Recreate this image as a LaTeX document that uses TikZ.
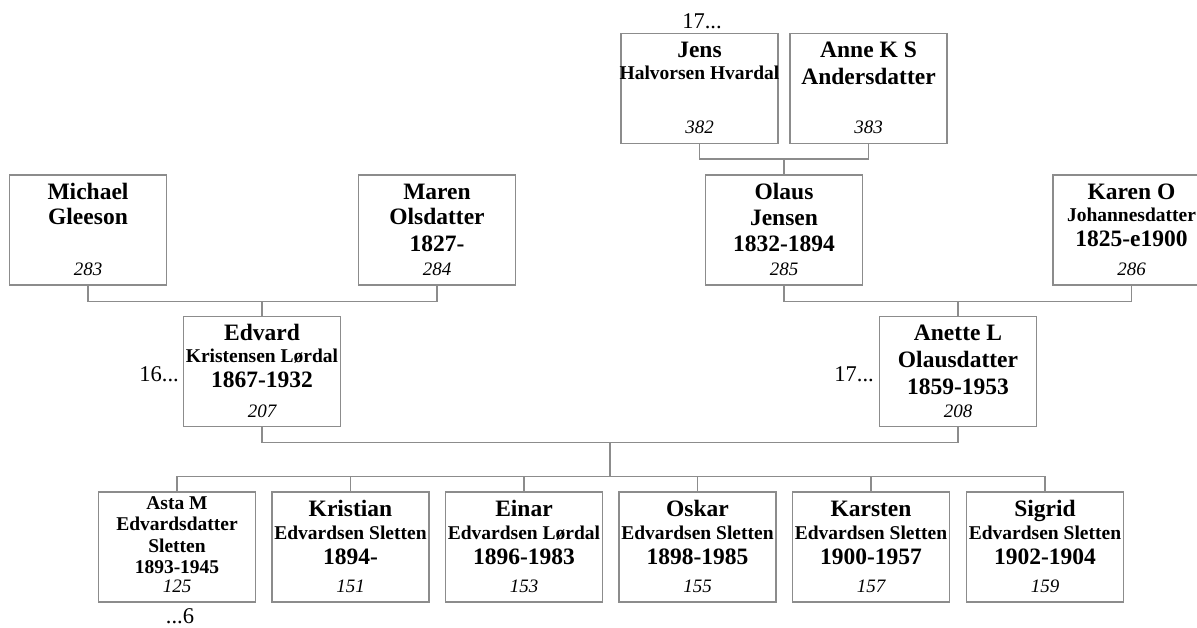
\documentclass[tikz,border=0pt]{standalone}
\usepackage{fontspec}
\setmainfont{Liberation Serif}
\usetikzlibrary{calc}
\definecolor{linegray}{RGB}{140,140,140}
\tikzset{
  x=1pt, y=-1pt,
  pbox/.style={draw=linegray, line width=1.3pt, minimum width=157pt, minimum height=110pt, inner sep=0pt},
  conn/.style={draw=linegray, line width=1.3pt},
  big/.style={anchor=base, inner sep=0pt, font=\fontsize{23.5}{24}\selectfont\bfseries},
  sub/.style={anchor=base, inner sep=0pt, font=\fontsize{19.5}{20}\selectfont\bfseries},
  num/.style={anchor=base, inner sep=0pt, font=\fontsize{19}{20}\selectfont\itshape},
  plaintxt/.style={anchor=base, inner sep=0pt, font=\fontsize{22.5}{24}\selectfont},
}
\newcommand\tl[4]{\node[#1] at ([yshift=-#3pt]#2.north) {#4};}
\begin{document}
\begin{tikzpicture}
\useasboundingbox (0,0) rectangle (1197,628);
% boxes
\node[pbox] (jens) at (699.5,88.5) {};
\node[pbox] (anne) at (868.5,88.5) {};
\node[pbox] (michael) at (88,230) {};
\node[pbox] (maren) at (437,230) {};
\node[pbox] (olaus) at (784,230) {};
\node[pbox] (karen) at (1131.5,230) {};
\node[pbox] (edvard) at (262,371.5) {};
\node[pbox] (anette) at (958,371.5) {};
\node[pbox] (asta) at (177,547) {};
\node[pbox] (kristian) at (350.5,547) {};
\node[pbox] (einar) at (524,547) {};
\node[pbox] (oskar) at (697.5,547) {};
\node[pbox] (karsten) at (871,547) {};
\node[pbox] (sigrid) at (1045,547) {};
% texts
\tl{big}{jens}{25}{Jens}
\tl{sub}{jens}{46.7}{Halvorsen Hvardal}
\tl{num}{jens}{100.7}{382}
\tl{big}{anne}{25}{Anne K S}
\tl{big}{anne}{51.7}{Andersdatter}
\tl{num}{anne}{100.7}{383}
\tl{big}{michael}{25}{Michael}
\tl{big}{michael}{50.5}{Gleeson}
\tl{num}{michael}{101.5}{283}
\tl{big}{maren}{25}{Maren}
\tl{big}{maren}{50.5}{Olsdatter}
\tl{big}{maren}{76.7}{1827-}
\tl{num}{maren}{101}{284}
\tl{big}{olaus}{25}{Olaus}
\tl{big}{olaus}{51.2}{Jensen}
\tl{big}{olaus}{76.7}{1832-1894}
\tl{num}{olaus}{101}{285}
\tl{big}{karen}{25}{Karen O}
\tl{sub}{karen}{46.7}{Johannesdatter}
\tl{big}{karen}{71.7}{1825-e1900}
\tl{num}{karen}{101}{286}
\tl{big}{edvard}{25}{Edvard}
\tl{sub}{edvard}{46.7}{Kristensen Lørdal}
\tl{big}{edvard}{71.7}{1867-1932}
\tl{num}{edvard}{101.5}{207}
\tl{big}{anette}{25}{Anette L}
\tl{big}{anette}{51.7}{Olausdatter}
\tl{big}{anette}{78.3}{1859-1953}
\tl{num}{anette}{101.5}{208}
\tl{sub}{asta}{17.7}{Asta M}
\tl{sub}{asta}{39.3}{Edvardsdatter}
\tl{sub}{asta}{61}{Sletten}
\tl{sub}{asta}{81.7}{1893-1945}
\tl{num}{asta}{101}{125}
\tl{big}{kristian}{25}{Kristian}
\tl{sub}{kristian}{47.7}{Edvardsen Sletten}
\tl{big}{kristian}{72.7}{1894-}
\tl{num}{kristian}{101}{151}
\tl{big}{einar}{25}{Einar}
\tl{sub}{einar}{47.7}{Edvardsen Lørdal}
\tl{big}{einar}{72.7}{1896-1983}
\tl{num}{einar}{101}{153}
\tl{big}{oskar}{25}{Oskar}
\tl{sub}{oskar}{47.7}{Edvardsen Sletten}
\tl{big}{oskar}{72.7}{1898-1985}
\tl{num}{oskar}{101}{155}
\tl{big}{karsten}{25}{Karsten}
\tl{sub}{karsten}{47.7}{Edvardsen Sletten}
\tl{big}{karsten}{72.7}{1900-1957}
\tl{num}{karsten}{101}{157}
\tl{big}{sigrid}{25}{Sigrid}
\tl{sub}{sigrid}{47.7}{Edvardsen Sletten}
\tl{big}{sigrid}{72.7}{1902-1904}
\tl{num}{sigrid}{101}{159}
% outside labels
\node[plaintxt] (l17top) at (702,29) {17...};
\node[plaintxt, anchor=base east] (l16) at (179,381.7) {16...};
\node[plaintxt, anchor=base east] (l17) at (874,381.7) {17...};
\node[plaintxt] (l6) at (180,623) {...6};
% connectors
\draw[conn] (jens.south) -- ++(0,15) coordinate (j1) -| (anne.south);
\draw[conn] (olaus.north) -- (olaus.north |- j1);
\draw[conn] (michael.south) -- ++(0,16) coordinate (m1) -| (maren.south);
\draw[conn] (edvard.north) -- (edvard.north |- m1);
\draw[conn] (olaus.south) -- ++(0,16) coordinate (o1) -| (karen.south);
\draw[conn] (anette.north) -- (anette.north |- o1);
\draw[conn] (edvard.south) -- ++(0,15.5) coordinate (e1) -| (anette.south);
\coordinate (fam) at ($(e1)!0.5!(e1 -| anette.south)$);
\draw[conn] (asta.north) -- ++(0,-15) coordinate (c1) -| (sigrid.north);
\draw[conn] (fam) -- (fam |- c1);
\foreach \c in {kristian,einar,oskar,karsten}{
  \draw[conn] (\c.north) -- (\c.north |- c1);
}
\end{tikzpicture}
\end{document}
